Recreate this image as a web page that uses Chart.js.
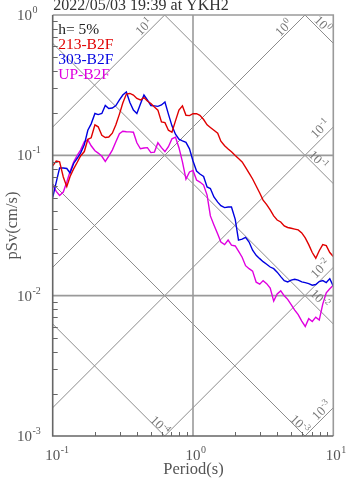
<!DOCTYPE html>
<html>
<head>
<meta charset="utf-8">
<script src="https://cdn.jsdelivr.net/npm/chart.js@4.4.1/dist/chart.umd.min.js"></script>
<style>
  html, body { margin: 0; padding: 0; background: #fff; }
  #wrap { width: 347px; height: 478px; position: relative; }
</style>
</head>
<body>
<div id="wrap"><canvas id="c" width="347" height="478"></canvas></div>
<script>
// Pseudo velocity response spectra, tripartite log-log layout
const chartTitle = '2022/05/03 19:39 at YKH2';
const dampingLabel = 'h= 5%';
const seriesNames = ['213-B2F', '303-B2F', 'UP-B2F'];
const seriesColors = ['#e00000', '#0000e0', '#e000e0'];

// Period (s)
const periods = [0.100,0.106,0.112,0.119,0.126,0.133,0.141,0.150,0.158,0.168,
  0.178,0.188,0.200,0.211,0.224,0.237,0.251,0.266,0.282,0.299,
  0.316,0.335,0.355,0.376,0.398,0.422,0.447,0.473,0.501,0.531,
  0.562,0.596,0.631,0.668,0.708,0.750,0.794,0.841,0.891,0.944,
  1.00,1.06,1.12,1.19,1.26,1.33,1.41,1.50,1.58,1.68,
  1.78,1.88,2.00,2.11,2.24,2.37,2.51,2.66,2.82,2.99,
  3.16,3.35,3.55,3.76,3.98,4.22,4.47,4.73,5.01,5.31,
  5.62,5.96,6.31,6.68,7.08,7.50,7.94,8.41,8.91,9.44,
  10.0];

// pSv (cm/s)
const sv213 = [0.0840,0.0912,0.0900,0.0701,0.0598,0.0707,0.0800,0.0897,0.0989,0.1064,
  0.130,0.1333,0.165,0.1596,0.139,0.134,0.135,0.1438,0.165,0.1967,
  0.236,0.2735,0.276,0.269,0.254,0.248,0.258,0.244,0.234,0.221,
  0.210,0.173,0.171,0.151,0.146,0.176,0.210,0.225,0.193,0.192,
  0.198,0.198,0.193,0.180,0.165,0.158,0.151,0.1438,0.126,0.117,
  0.111,0.106,0.0997,0.0949,0.0897,0.082,0.0748,0.0678,0.0605,0.0539,
  0.048,0.0446,0.0408,0.0370,0.0346,0.0335,0.0314,0.0306,0.0302,0.0298,
  0.0294,0.0280,0.0258,0.0231,0.0203,0.0185,0.0209,0.0231,0.0227,0.0203,
  0.0190];

const sv303 = [0.0500,0.0645,0.0813,0.0813,0.0806,0.0748,0.0875,0.0957,0.1038,0.1189,
  0.151,0.1676,0.1987,0.195,0.1987,0.227,0.2157,0.2175,0.2265,0.248,
  0.269,0.2826,0.238,0.210,0.1987,0.232,0.269,0.248,0.2265,0.225,
  0.2233,0.2285,0.240,0.1967,0.1622,0.1414,0.1303,0.1269,0.1238,0.1113,
  0.0912,0.0773,0.0736,0.0707,0.0595,0.058,0.0505,0.0464,0.0438,0.0424,
  0.0428,0.0428,0.0350,0.0249,0.0253,0.026,0.0241,0.0211,0.0194,0.01836,
  0.01747,0.01676,0.0160,0.01557,0.01471,0.01367,0.0128,0.01254,0.0129,0.0131,
  0.0129,0.01254,0.01238,0.01218,0.01188,0.0120,0.0126,0.0128,0.0124,0.01322,
  0.01169];

const svUP = [0.0614,0.0553,0.0517,0.0548,0.0645,0.0767,0.0897,0.1005,0.109,0.1248,
  0.129,0.117,0.1078,0.1038,0.0984,0.0905,0.0989,0.109,0.1248,0.1426,
  0.1485,0.1473,0.147,0.1461,0.1228,0.1113,0.1127,0.1134,0.1046,0.1055,
  0.1228,0.1134,0.1064,0.1152,0.1311,0.1348,0.1134,0.0897,0.0678,0.0761,
  0.078,0.0667,0.0645,0.0614,0.0521,0.037,0.0319,0.0275,0.0241,0.0231,
  0.0249,0.0229,0.0226,0.0208,0.0188,0.01636,0.01557,0.01495,0.01248,0.01208,
  0.0128,0.01218,0.01131,0.00915,0.0103,0.01082,0.00997,0.00941,0.00864,0.00789,
  0.00733,0.00659,0.00603,0.00686,0.00654,0.00703,0.0067,0.00871,0.01047,0.0112,
  0.01188];

// Axis decades (exponents of ten)
const xTickExps = [-1, 0, 1];
const yTickExps = [0, -1, -2, -3];
// Diagonal guide lines: pseudo acceleration (cm/s2) and displacement (cm) decades
const accelExps = [1, 0, -1, -2, -3];
const dispExps = [0, -1, -2, -3, -4];

const SERIF = '"Liberation Serif", "DejaVu Serif", serif';
const TWO_PI = 2 * Math.PI;

// "10" with a raised exponent; (x, y) is the baseline start of "10"
function drawPow(ctx, exp, x, y, size, expSize, rise) {
  ctx.font = size + 'px ' + SERIF;
  ctx.textAlign = 'left';
  ctx.textBaseline = 'alphabetic';
  ctx.fillText('10', x, y);
  const w = ctx.measureText('10').width;
  ctx.font = expSize + 'px ' + SERIF;
  ctx.fillText(String(exp), x + w + 0.5, y - rise);
  return w + 0.5 + ctx.measureText(String(exp)).width;
}
function powWidth(ctx, exp, size, expSize) {
  ctx.font = size + 'px ' + SERIF;
  const w = ctx.measureText('10').width;
  ctx.font = expSize + 'px ' + SERIF;
  return w + 0.5 + ctx.measureText(String(exp)).width;
}

// Offsets (px) of each guide label centre from where its line leaves the frame
const accelLabelOffsets = {1: [-21, 11.5], 0: [-21.5, 12.5], '-1': [-13.3, 1.5], '-2': [-13.3, 1], '-3': [-12, 2.5]};
const dispLabelOffsets = {0: [-10.3, -19.3], '-1': [-14.8, -24], '-2': [-13.3, -25.5], '-3': [-5, -12], '-4': [-4.5, -11]};

const framePlugin = {
  id: 'tripartiteFrame',
  beforeDatasetsDraw(chart) {
    const ctx = chart.ctx, a = chart.chartArea;
    const xs = chart.scales.x, ys = chart.scales.y;
    ctx.save();
    ctx.beginPath();
    ctx.rect(a.left, a.top, a.right - a.left, a.bottom - a.top);
    ctx.clip();

    // diagonal guides
    ctx.strokeStyle = '#8c8c8c';
    ctx.lineWidth = 1;
    const t0 = 0.01, t1 = 100;
    accelExps.forEach(k => {
      const sa = Math.pow(10, k);
      ctx.beginPath();
      ctx.moveTo(xs.getPixelForValue(t0), ys.getPixelForValue(sa * t0 / TWO_PI));
      ctx.lineTo(xs.getPixelForValue(t1), ys.getPixelForValue(sa * t1 / TWO_PI));
      ctx.stroke();
    });
    dispExps.forEach(k => {
      const d = Math.pow(10, k);
      ctx.beginPath();
      ctx.moveTo(xs.getPixelForValue(t0), ys.getPixelForValue(TWO_PI * d / t0));
      ctx.lineTo(xs.getPixelForValue(t1), ys.getPixelForValue(TWO_PI * d / t1));
      ctx.stroke();
    });

    // decade grid
    ctx.strokeStyle = '#9a9a9a';
    ctx.lineWidth = 1.6;
    [0.1, 0.01].forEach(v => {
      const y = ys.getPixelForValue(v);
      ctx.beginPath(); ctx.moveTo(a.left, y); ctx.lineTo(a.right, y); ctx.stroke();
    });
    [1].forEach(v => {
      const x = xs.getPixelForValue(v);
      ctx.beginPath(); ctx.moveTo(x, a.top); ctx.lineTo(x, a.bottom); ctx.stroke();
    });
    ctx.restore();
  },
  afterDatasetsDraw(chart) {
    const ctx = chart.ctx, a = chart.chartArea;
    const xs = chart.scales.x, ys = chart.scales.y;
    ctx.save();

    // frame
    ctx.lineWidth = 1.6;
    ctx.strokeStyle = '#9a9a9a';
    ctx.beginPath();
    ctx.moveTo(a.left, a.top); ctx.lineTo(a.right, a.top); ctx.lineTo(a.right, a.bottom);
    ctx.stroke();
    ctx.strokeStyle = '#666';
    ctx.beginPath();
    ctx.moveTo(a.left, a.top); ctx.lineTo(a.left, a.bottom); ctx.lineTo(a.right, a.bottom);
    ctx.stroke();

    // minor ticks, inside the frame
    ctx.lineWidth = 1;
    ctx.strokeStyle = '#666';
    for (let e = -3; e < 0; e++) {
      for (let m = 2; m <= 9; m++) {
        const y = Math.round(ys.getPixelForValue(m * Math.pow(10, e))) + 0.5;
        ctx.beginPath(); ctx.moveTo(a.left, y); ctx.lineTo(a.left + 5, y); ctx.stroke();
      }
    }
    for (let e = -1; e < 1; e++) {
      for (let m = 2; m <= 9; m++) {
        const x = Math.round(xs.getPixelForValue(m * Math.pow(10, e))) + 0.5;
        ctx.beginPath(); ctx.moveTo(x, a.bottom); ctx.lineTo(x, a.bottom - 4); ctx.stroke();
      }
    }

    // guide labels
    ctx.fillStyle = '#777';
    const ls = 13, les = 9;
    accelExps.forEach(k => {
      const sa = Math.pow(10, k);
      let ex, ey;
      const svRight = sa * 10 / TWO_PI;
      if (svRight <= 1) { ex = a.right; ey = ys.getPixelForValue(svRight); }
      else { ex = xs.getPixelForValue(TWO_PI / sa); ey = a.top; }
      const off = accelLabelOffsets[k];
      const cx = ex + off[0], cy = ey + off[1];
      const w = powWidth(ctx, k, ls, les);
      ctx.save();
      ctx.translate(cx, cy);
      ctx.rotate(-Math.PI / 4);
      drawPow(ctx, k, -w / 2, 4.5, ls, les, 5);
      ctx.restore();
    });
    dispExps.forEach(k => {
      const d = Math.pow(10, k);
      let ex, ey;
      const svRight = TWO_PI * d / 10;
      if (svRight >= 0.001) { ex = a.right; ey = ys.getPixelForValue(svRight); }
      else { ex = xs.getPixelForValue(TWO_PI * d / 0.001); ey = a.bottom; }
      const off = dispLabelOffsets[k];
      const cx = ex + off[0], cy = ey + off[1];
      const w = powWidth(ctx, k, ls, les);
      ctx.save();
      ctx.translate(cx, cy);
      ctx.rotate(Math.PI / 4);
      drawPow(ctx, k, -w / 2, 4.5, ls, les, 5);
      ctx.restore();
    });

    // axis tick labels
    ctx.fillStyle = '#555';
    yTickExps.forEach(k => {
      const y = ys.getPixelForValue(Math.pow(10, k));
      drawPow(ctx, k, 17, y + 5, 15, 10, 7);
    });
    xTickExps.forEach(k => {
      const x = xs.getPixelForValue(Math.pow(10, k));
      ctx.font = '15px ' + SERIF;
      const w10 = ctx.measureText('10').width;
      drawPow(ctx, k, x - w10 / 2, a.bottom + 24, 15, 10, 7);
    });

    // axis titles
    ctx.font = '16.5px ' + SERIF;
    ctx.textAlign = 'center';
    ctx.textBaseline = 'alphabetic';
    ctx.fillText('Period(s)', (a.left + a.right) / 2 + 0.5, a.bottom + 38);
    ctx.save();
    ctx.translate(17, (a.top + a.bottom) / 2);
    ctx.rotate(-Math.PI / 2);
    ctx.fillText('pSv(cm/s)', 0, 0);
    ctx.restore();

    // title
    ctx.fillStyle = '#333';
    ctx.font = '16px ' + SERIF;
    ctx.textAlign = 'left';
    ctx.fillText(chartTitle, a.left + 0.5, 9.5);

    // in-plot legend
    ctx.font = '15.5px ' + SERIF;
    ctx.fillStyle = '#222';
    ctx.fillText(dampingLabel, a.left + 5.5, a.top + 18.5);
    seriesNames.forEach((n, i) => {
      ctx.fillStyle = seriesColors[i];
      ctx.fillText(n, a.left + 5.5, a.top + 34 + i * 15);
    });
    ctx.restore();
  }
};

const seriesValues = [sv213, sv303, svUP];
new Chart(document.getElementById('c'), {
  type: 'line',
  data: {
    datasets: seriesNames.map((name, i) => ({
      label: name,
      data: periods.map((t, j) => ({ x: t, y: seriesValues[i][j] })),
      borderColor: seriesColors[i],
      borderWidth: 1.4,
      pointRadius: 0,
      tension: 0,
      fill: false
    }))
  },
  options: {
    responsive: false,
    animation: false,
    devicePixelRatio: 1,
    layout: { padding: { top: 15, right: 13.7, left: 0, bottom: 0 } },
    plugins: { legend: { display: false }, tooltip: { enabled: false } },
    scales: {
      x: {
        type: 'logarithmic', min: 0.1, max: 10,
        ticks: { display: false }, grid: { display: false }, border: { display: false },
        afterFit(s) { s.height = 42; }
      },
      y: {
        type: 'logarithmic', min: 0.001, max: 1,
        ticks: { display: false }, grid: { display: false }, border: { display: false },
        afterFit(s) { s.width = 52.7; }
      }
    }
  },
  plugins: [framePlugin]
});
</script>
</body>
</html>
